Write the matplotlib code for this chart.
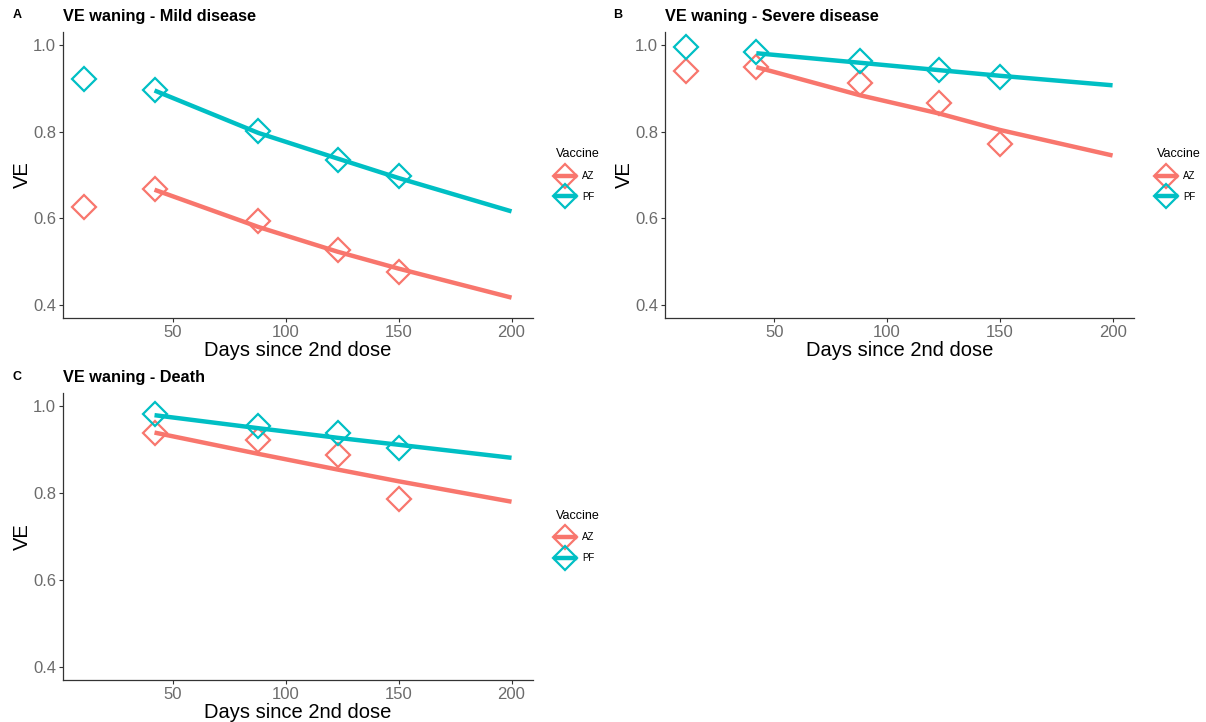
import matplotlib
matplotlib.use("Agg")
import matplotlib.pyplot as plt
from matplotlib.lines import Line2D

plt.rcParams["font.family"] = ["Liberation Sans", "DejaVu Sans"]

# ── Data ────────────────────────────────────────────────────────────
days = [11, 42, 88, 123, 150]
death_days = [42, 88, 123, 150]
fit_days = [42, 88, 123, 150, 200]

mild_pf = [0.922, 0.897, 0.802, 0.734, 0.698]
mild_az = [0.627, 0.668, 0.594, 0.526, 0.477]
mild_pf_fit = [0.895, 0.797, 0.738, 0.693, 0.616]
mild_az_fit = [0.666, 0.580, 0.523, 0.484, 0.417]

severe_pf = [0.995, 0.983, 0.964, 0.943, 0.927]
severe_az = [0.939, 0.949, 0.912, 0.867, 0.771]
severe_pf_fit = [0.981, 0.959, 0.942, 0.929, 0.907]
severe_az_fit = [0.949, 0.884, 0.842, 0.804, 0.745]

death_pf = [0.981, 0.953, 0.939, 0.903]
death_az = [0.937, 0.922, 0.888, 0.786]
death_pf_fit = [0.979, 0.949, 0.927, 0.911, 0.881]
death_az_fit = [0.939, 0.890, 0.854, 0.827, 0.780]

vaccines = ["AZ", "PF"]
COLORS = {"AZ": "#F8766D", "PF": "#00BFC4"}

x_ticks = [50, 100, 150, 200]
y_ticks = [0.4, 0.6, 0.8, 1.0]

panels = [
    ("A", "VE waning - Mild disease", days,
     {"AZ": mild_az, "PF": mild_pf}, {"AZ": mild_az_fit, "PF": mild_pf_fit},
     [63, 32, 533, 318], (17, 15)),
    ("B", "VE waning - Severe disease", days,
     {"AZ": severe_az, "PF": severe_pf}, {"AZ": severe_az_fit, "PF": severe_pf_fit},
     [665, 32, 1134, 318], (618, 15)),
    ("C", "VE waning - Death", death_days,
     {"AZ": death_az, "PF": death_pf}, {"AZ": death_az_fit, "PF": death_pf_fit},
     [63, 393, 533, 680], (17, 377)),
]

W, H = 1206, 722
fig = plt.figure(figsize=(W / 100, H / 100), dpi=100)

MS = 12.0
for letter, title, xs, pts, fits, (l, t, r, b), (lx, ly) in panels:
    ax = fig.add_axes([l / W, 1 - b / H, (r - l) / W, (b - t) / H])
    for v in vaccines:
        ax.plot(xs, pts[v], linestyle="none", marker="D", ms=MS,
                mfc="none", mec=COLORS[v], mew=1.6, zorder=2)
        ax.plot(fit_days, fits[v], color=COLORS[v], lw=3.2,
                solid_capstyle="butt", zorder=3)

    ax.set_xlim(1.5, 209.5)
    ax.set_ylim(0.37, 1.03)
    ax.set_xticks(x_ticks)
    ax.set_yticks(y_ticks)
    ax.set_yticklabels([f"{y:.1f}" for y in y_ticks])
    ax.tick_params(labelsize=12, labelcolor="#6b6b6b", color="#333333",
                   length=3, width=0.8, pad=2)
    for s in ["top", "right"]:
        ax.spines[s].set_visible(False)
    for s in ["left", "bottom"]:
        ax.spines[s].set_color("#333333")
        ax.spines[s].set_linewidth(0.9)

    ax.set_xlabel("Days since 2nd dose", fontsize=14.5, labelpad=1)
    ax.set_ylabel("VE", fontsize=14.5, labelpad=1)
    ax.set_title(title, loc="left", fontsize=11.7, fontweight="bold", pad=8)
    fig.text(lx / W, 1 - ly / H, letter, fontsize=9, fontweight="bold",
             ha="center", va="center")

    handles = [Line2D([], [], color=COLORS[v], lw=3.2, marker="D", ms=MS,
                      mfc="none", mec=COLORS[v], mew=1.6) for v in vaccines]
    leg = ax.legend(handles, vaccines, title="Vaccine", loc="center left",
                    bbox_to_anchor=(1.04, 0.5), frameon=False, fontsize=7,
                    title_fontsize=9, handlelength=2.0, handletextpad=0.7,
                    labelspacing=1.1, borderaxespad=0.0)
    leg._legend_box.align = "left"

fig.savefig("out.png", dpi=100)
